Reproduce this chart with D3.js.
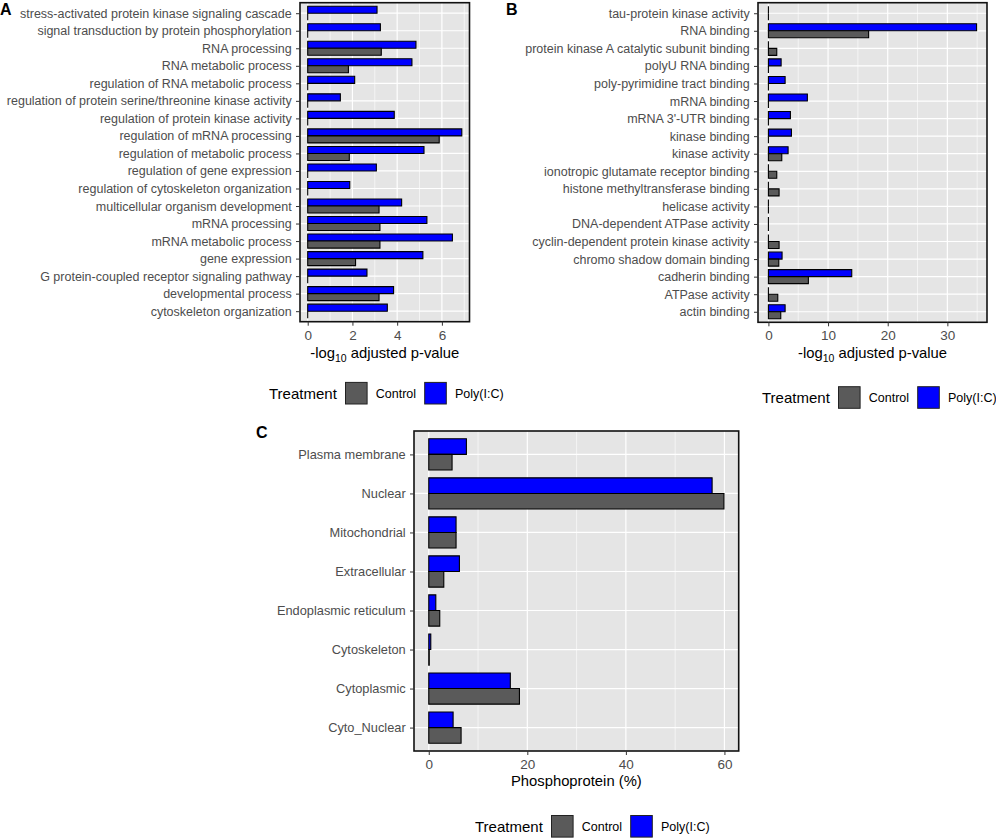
<!DOCTYPE html>
<html>
<head>
<meta charset="utf-8">
<script src="https://cdn.jsdelivr.net/npm/d3@7"></script>
<style>
    body { margin: 0; background: #fff; }
    svg { display: block; font-family: "Liberation Sans", Arial, sans-serif; }
</style>
</head>
<body>
<svg id="chart" width="996" height="840"></svg>
<script>
// Panel A - GO biological process terms (top to bottom)
const termsA = [
    "stress-activated protein kinase signaling cascade",
    "signal transduction by protein phosphorylation",
    "RNA processing",
    "RNA metabolic process",
    "regulation of RNA metabolic process",
    "regulation of protein serine/threonine kinase activity",
    "regulation of protein kinase activity",
    "regulation of mRNA processing",
    "regulation of metabolic process",
    "regulation of gene expression",
    "regulation of cytoskeleton organization",
    "multicellular organism development",
    "mRNA processing",
    "mRNA metabolic process",
    "gene expression",
    "G protein-coupled receptor signaling pathway",
    "developmental process",
    "cytoskeleton organization"
];
const controlA = [0, 0, 3.29, 1.82, 0, 0, 0, 5.88, 1.86, 0, 0, 3.19, 3.23, 3.23, 2.14, 0, 3.19, 0];
const polyA = [3.10, 3.25, 4.84, 4.66, 2.10, 1.46, 3.87, 6.89, 5.20, 3.07, 1.88, 4.20, 5.33, 6.47, 5.15, 2.65, 3.84, 3.56];
const ticksA = [0, 2, 4, 6];

// Panel B - GO molecular function terms (top to bottom)
const termsB = [
    "tau-protein kinase activity",
    "RNA binding",
    "protein kinase A catalytic subunit binding",
    "polyU RNA binding",
    "poly-pyrimidine tract binding",
    "mRNA binding",
    "mRNA 3'-UTR binding",
    "kinase binding",
    "kinase activity",
    "ionotropic glutamate receptor binding",
    "histone methyltransferase binding",
    "helicase activity",
    "DNA-dependent ATPase activity",
    "cyclin-dependent protein kinase activity",
    "chromo shadow domain binding",
    "cadherin binding",
    "ATPase activity",
    "actin binding"
];
const controlB = [0, 16.8, 1.40, 0, 0, 0, 0, 0, 2.24, 1.40, 1.79, 0, 0, 1.79, 1.74, 6.70, 1.57, 2.07];
const polyB = [0, 34.9, 0, 2.13, 2.80, 6.53, 3.69, 3.86, 3.30, 0, 0, 0, 0, 0, 2.29, 13.97, 0, 2.80];
const ticksB = [0, 10, 20, 30];

// Panel C - subcellular location of phosphoproteins (top to bottom)
const locsC = [
    "Plasma membrane",
    "Nuclear",
    "Mitochondrial",
    "Extracellular",
    "Endoplasmic reticulum",
    "Cytoskeleton",
    "Cytoplasmic",
    "Cyto_Nuclear"
];
const controlC = [4.73, 59.9, 5.54, 3.05, 2.23, 0.1, 18.4, 6.56];
const polyC = [7.64, 57.5, 5.54, 6.22, 1.43, 0.41, 16.55, 4.94];
const ticksC = [0, 20, 40, 60];

const treatments = ["Control", "Poly(I:C)"];
const treatColors = {"Control": "#5a5a5a", "Poly(I:C)": "#0000ff"};

const svg = d3.select("#chart");

function drawPanel(p) {
    let g = svg.append("g");
    let maxVal = d3.max(p.control.concat(p.poly));

    // ggplot style 5% expansion on the value axis, 0.6 on the discrete one
    let x = d3.scaleLinear()
        .domain([-0.05 * maxVal, 1.05 * maxVal])
        .range([p.left, p.right]);
    let y = d3.scalePoint()
        .domain(p.cats)
        .range([p.top, p.bottom])
        .padding(0.6);
    let bh = y.step() * 0.4;

    g.append("rect")
        .attr("x", p.left).attr("y", p.top)
        .attr("width", p.right - p.left).attr("height", p.bottom - p.top)
        .attr("fill", "#e5e5e5");

    // minor grid lines half way between the major ticks
    let minor = [];
    let stepT = p.ticks[1] - p.ticks[0];
    for (let i = 0; i <= p.ticks.length; i++) {
        let v = p.ticks[0] + stepT * (i + 0.5);
        if (x(v) < p.right) minor.push(v);
    }
    g.selectAll(".minor").data(minor).join("line")
        .attr("x1", d => x(d)).attr("x2", d => x(d))
        .attr("y1", p.top).attr("y2", p.bottom)
        .attr("stroke", "#fff").attr("stroke-width", 0.6);
    g.selectAll(".majorx").data(p.ticks).join("line")
        .attr("x1", d => x(d)).attr("x2", d => x(d))
        .attr("y1", p.top).attr("y2", p.bottom)
        .attr("stroke", "#fff").attr("stroke-width", 1.2);
    g.selectAll(".majory").data(p.cats).join("line")
        .attr("x1", p.left).attr("x2", p.right)
        .attr("y1", d => y(d)).attr("y2", d => y(d))
        .attr("stroke", "#fff").attr("stroke-width", 1.2);

    // bars: Poly(I:C) above the category line, Control below
    let rows = [];
    p.cats.forEach(function(c, i) {
        rows.push({cat: c, treat: "Poly(I:C)", value: p.poly[i], y0: y(c) - bh, y1: y(c)});
        rows.push({cat: c, treat: "Control", value: p.control[i], y0: y(c), y1: y(c) + bh});
    });
    // paths so that zero-width bars still show their outline
    g.selectAll(".bar").data(rows).join("path")
        .attr("class", "bar")
        .attr("d", d => "M" + x(0) + "," + d.y0 + "H" + x(d.value) + "V" + d.y1 + "H" + x(0) + "Z")
        .attr("fill", d => treatColors[d.treat])
        .attr("stroke", "#000")
        .attr("stroke-width", 1.1);

    g.append("rect")
        .attr("x", p.left).attr("y", p.top)
        .attr("width", p.right - p.left).attr("height", p.bottom - p.top)
        .attr("fill", "none").attr("stroke", "#111").attr("stroke-width", 1.6);

    let yAxis = g.append("g")
        .attr("transform", "translate(" + p.left + ",0)")
        .call(d3.axisLeft(y).tickSize(4).tickPadding(4.3));
    yAxis.select(".domain").remove();
    yAxis.selectAll("line").attr("stroke", "#333");
    yAxis.selectAll("text")
        .attr("fill", "#4d4d4d")
        .style("font-size", p.catFont + "px")
        .style("font-family", "'Liberation Sans', Arial, sans-serif");

    let xAxis = g.append("g")
        .attr("transform", "translate(0," + p.bottom + ")")
        .call(d3.axisBottom(x).tickValues(p.ticks).tickSize(4).tickPadding(4.5));
    xAxis.select(".domain").remove();
    xAxis.selectAll("line").attr("stroke", "#333");
    xAxis.selectAll("text")
        .attr("fill", "#4d4d4d")
        .style("font-size", "13.5px")
        .style("font-family", "'Liberation Sans', Arial, sans-serif");

    let title = g.append("text")
        .attr("x", (p.left + p.right) / 2)
        .attr("y", p.titleY)
        .attr("text-anchor", "middle")
        .style("font-size", "14.8px")
        .attr("fill", "#000");
    if (p.log) {
        title.append("tspan").text("-log");
        title.append("tspan").attr("dy", 4).style("font-size", "10.5px").text("10");
        title.append("tspan").attr("dy", -4).text(" adjusted p-value");
    } else {
        title.text(p.title);
    }

    svg.append("text")
        .attr("x", p.letterX).attr("y", p.letterY)
        .style("font-size", "16px").style("font-weight", "bold")
        .text(p.letter);
}

function drawLegend(x0, cy) {
    let g = svg.append("g").attr("transform", "translate(" + x0 + "," + cy + ")");
    g.append("text")
        .attr("x", 0).attr("y", 5.3)
        .style("font-size", "15px")
        .text("Treatment");
    let offsets = [76.5, 155.7];
    treatments.forEach(function(t, i) {
        g.append("rect")
            .attr("x", offsets[i]).attr("y", -10.8)
            .attr("width", 21.6).attr("height", 21.6)
            .attr("fill", treatColors[t])
            .attr("stroke", "#222").attr("stroke-width", 1);
        g.append("text")
            .attr("x", offsets[i] + 30.3).attr("y", 4.5)
            .style("font-size", "12.5px")
            .text(t);
    });
}

drawPanel({cats: termsA, control: controlA, poly: polyA, ticks: ticksA,
    left: 300, right: 469.5, top: 2.7, bottom: 321.7, catFont: 12.5,
    log: true, titleY: 357.5, letter: "A", letterX: 0, letterY: 15});
drawPanel({cats: termsB, control: controlB, poly: polyB, ticks: ticksB,
    left: 758, right: 987, top: 2.7, bottom: 322.3, catFont: 12.5,
    log: true, titleY: 357.5, letter: "B", letterX: 506, letterY: 15});
drawPanel({cats: locsC, control: controlC, poly: polyC, ticks: ticksC,
    left: 414, right: 738.7, top: 431, bottom: 751, catFont: 12.8,
    log: false, title: "Phosphoprotein (%)", titleY: 786, letter: "C", letterX: 256, letterY: 437.5});

drawLegend(269, 393.2);
drawLegend(762, 397.5);
drawLegend(475, 826.3);
</script>
</body>
</html>
